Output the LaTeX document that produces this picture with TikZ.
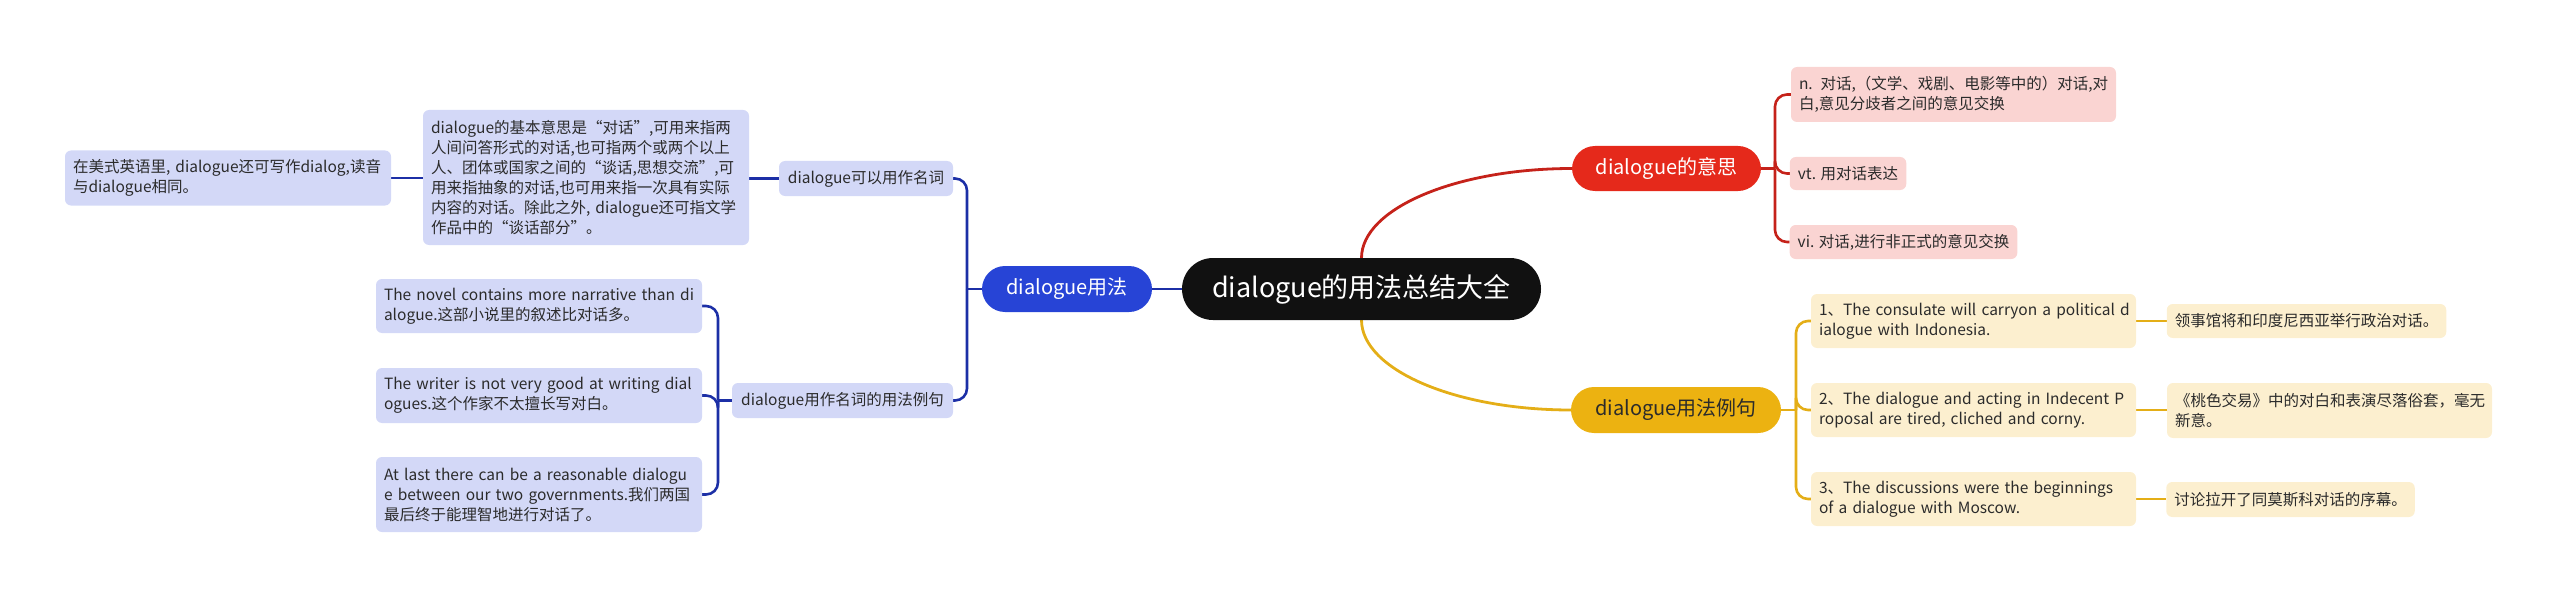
\documentclass[tikz,border=0pt]{standalone}
\usepackage{fontspec}
\setmainfont{Noto Sans CJK SC}
\usetikzlibrary{backgrounds}
\definecolor{rootc}{HTML}{111111}
\definecolor{bmain}{HTML}{2744D6}
\definecolor{bln}{HTML}{1C2FA6}
\definecolor{bfill}{HTML}{D3D8F7}
\definecolor{rmain}{HTML}{E5291B}
\definecolor{rln}{HTML}{C5221A}
\definecolor{rfill}{HTML}{FAD4D2}
\definecolor{ymain}{HTML}{ECB211}
\definecolor{yln}{HTML}{E4AE17}
\definecolor{yfill}{HTML}{FCEFCF}
\definecolor{txt}{HTML}{2B2B2B}
\begin{document}
\begin{tikzpicture}[x=1pt,y=-1pt,
  every node/.style={inner ysep=0pt, outer sep=0pt},
  small/.style={font=\fontsize{15.5}{20}\selectfont, text=txt, rounded corners=6pt, inner xsep=8pt},
  bsub/.style={small, fill=bfill},
  rsub/.style={small, fill=rfill},
  ysub/.style={small, fill=yfill},
  wh/.style 2 args={minimum width=#1pt, minimum height=#2pt},
  tw/.style={text width=#1pt, align=left},
  lone/.style={font=\fontsize{20}{24}\selectfont, rounded corners=23pt, inner xsep=0pt},
  rootnode/.style={font=\fontsize{27}{32}\selectfont, fill=rootc, text=white, rounded corners=31pt, inner xsep=0pt},
  bline/.style={draw=bln, line width=2.6pt},
  rline/.style={draw=rln, line width=2.6pt},
  yline/.style={draw=yln, line width=2.6pt},
  elbow/.style={rounded corners=12pt}
]
\useasboundingbox (0,0) rectangle (2560,599);

% root
\node[rootnode, wh={359}{62}] (root) at (1361.5,289) {dialogue的用法总结大全};

% main branches
\node[lone, fill=bmain, text=white, wh={170}{46}] (bu) at (1067,289) {dialogue用法};
\node[lone, fill=rmain, text=white, wh={189}{45}] (mean) at (1666.5,168.5) {dialogue的意思};
\node[lone, fill=ymain, text=txt, wh={210}{46}] (ex) at (1676,410) {dialogue用法例句};

% blue side
\node[bsub, wh={174}{35}] (noun) at (866,178.5) {dialogue可以用作名词};
\node[bsub, wh={221}{35}] (nex) at (842.5,400.5) {dialogue用作名词的用法例句};
\node[bsub, tw=310, wh={326}{135}] (basic) at (586,177.5) {\mbox{dialogue的基本意思是“对话”,可用来指两}\\\mbox{人间问答形式的对话,也可指两个或两个以上}\\\mbox{人、团体或国家之间的“谈话,思想交流”,可}\\\mbox{用来指抽象的对话,也可用来指一次具有实际}\\\mbox{内容的对话。除此之外, dialogue还可指文学}\\\mbox{作品中的“谈话部分”。}};
\node[bsub, tw=310, wh={326}{55}] (us) at (228,178) {\mbox{在美式英语里, dialogue还可写作dialog,读音}\\\mbox{与dialogue相同。}};
\node[bsub, tw=310, wh={326}{54}] (e1) at (539,306) {\mbox{The novel contains more narrative than di}\\\mbox{alogue.这部小说里的叙述比对话多。}};
\node[bsub, tw=310, wh={326}{55}] (e2) at (539,395.5) {\mbox{The writer is not very good at writing dial}\\\mbox{ogues.这个作家不太擅长写对白。}};
\node[bsub, tw=310, wh={326}{75}] (e3) at (539,494.5) {\mbox{At last there can be a reasonable dialogu}\\\mbox{e between our two governments.我们两国}\\\mbox{最后终于能理智地进行对话了。}};

% red side
\node[rsub, tw=309, wh={325}{55}] (rn) at (1953.5,94.5) {\mbox{n. 对话,（文学、戏剧、电影等中的）对话,对}\\\mbox{白,意见分歧者之间的意见交换}};
\node[rsub, wh={114}{33}] (rv) at (1848,173.5) {vt. 用对话表达};
\node[rsub, wh={225}{34}] (ri) at (1903.5,242) {vi. 对话,进行非正式的意见交换};

% yellow side
\node[ysub, tw=309, wh={325}{54}] (y1) at (1973.5,321) {\mbox{1、The consulate will carryon a political d}\\\mbox{ialogue with Indonesia.}};
\node[ysub, tw=309, wh={325}{54}] (y2) at (1973.5,410) {\mbox{2、The dialogue and acting in Indecent P}\\\mbox{roposal are tired, cliched and corny.}};
\node[ysub, tw=309, wh={325}{54}] (y3) at (1973.5,499) {\mbox{3、The discussions were the beginnings}\\\mbox{of a dialogue with Moscow.}};
\node[ysub, wh={279}{34}] (z1) at (2306.5,321) {领事馆将和印度尼西亚举行政治对话。};
\node[ysub, tw=309, wh={325}{55}] (z2) at (2329.5,410.5) {\mbox{《桃色交易》中的对白和表演尽落俗套，毫无}\\\mbox{新意。}};
\node[ysub, wh={247}{35}] (z3) at (2290.5,499.5) {讨论拉开了同莫斯科对话的序幕。};

\coordinate (bj) at (967,289);
\coordinate (ej) at (718,400.5);
\coordinate (rj) at (1775,168.5);
\coordinate (yj) at (1796,410);

\begin{pgfonlayer}{background}
% blue connectors
\draw[bline] (root.west) -- (bu.east);
\draw[bline] (bu.west) -- (bj);
\draw[bline, elbow] (bj) |- (noun.east);
\draw[bline, elbow] (bj) |- (nex.east);
\draw[bline] (noun.west) -- (noun.west -| basic.east);
\draw[bline] (basic.west |- us.east) -- (us.east);
\draw[bline] (nex.west) -- (ej);
\draw[bline, elbow] (ej) |- (e1.east);
\draw[bline, elbow] (ej) |- (e2.east);
\draw[bline, elbow] (ej) |- (e3.east);
% red connectors
\draw[rline, line width=2.8pt] (root.north) .. controls +(0,-49.4) and +(-116.2,0) .. (mean.west);
\draw[rline] (mean.east) -- (rj);
\draw[rline, elbow] (rj) |- (rn.west);
\draw[rline, elbow] (rj) |- (rv.west);
\draw[rline, elbow] (rj) |- (ri.west);
% yellow connectors
\draw[yline, line width=2.8pt] (root.south) .. controls +(0,49.7) and +(-115.6,0) .. (ex.west);
\draw[yline] (ex.east) -- (yj);
\draw[yline, elbow] (yj) |- (y1.west);
\draw[yline, elbow] (yj) |- (y2.west);
\draw[yline, elbow] (yj) |- (y3.west);
\draw[yline] (y1.east) -- (z1.west);
\draw[yline] (y2.east) -- (y2.east -| z2.west);
\draw[yline] (y3.east) -- (y3.east -| z3.west);
\end{pgfonlayer}
\end{tikzpicture}
\end{document}
